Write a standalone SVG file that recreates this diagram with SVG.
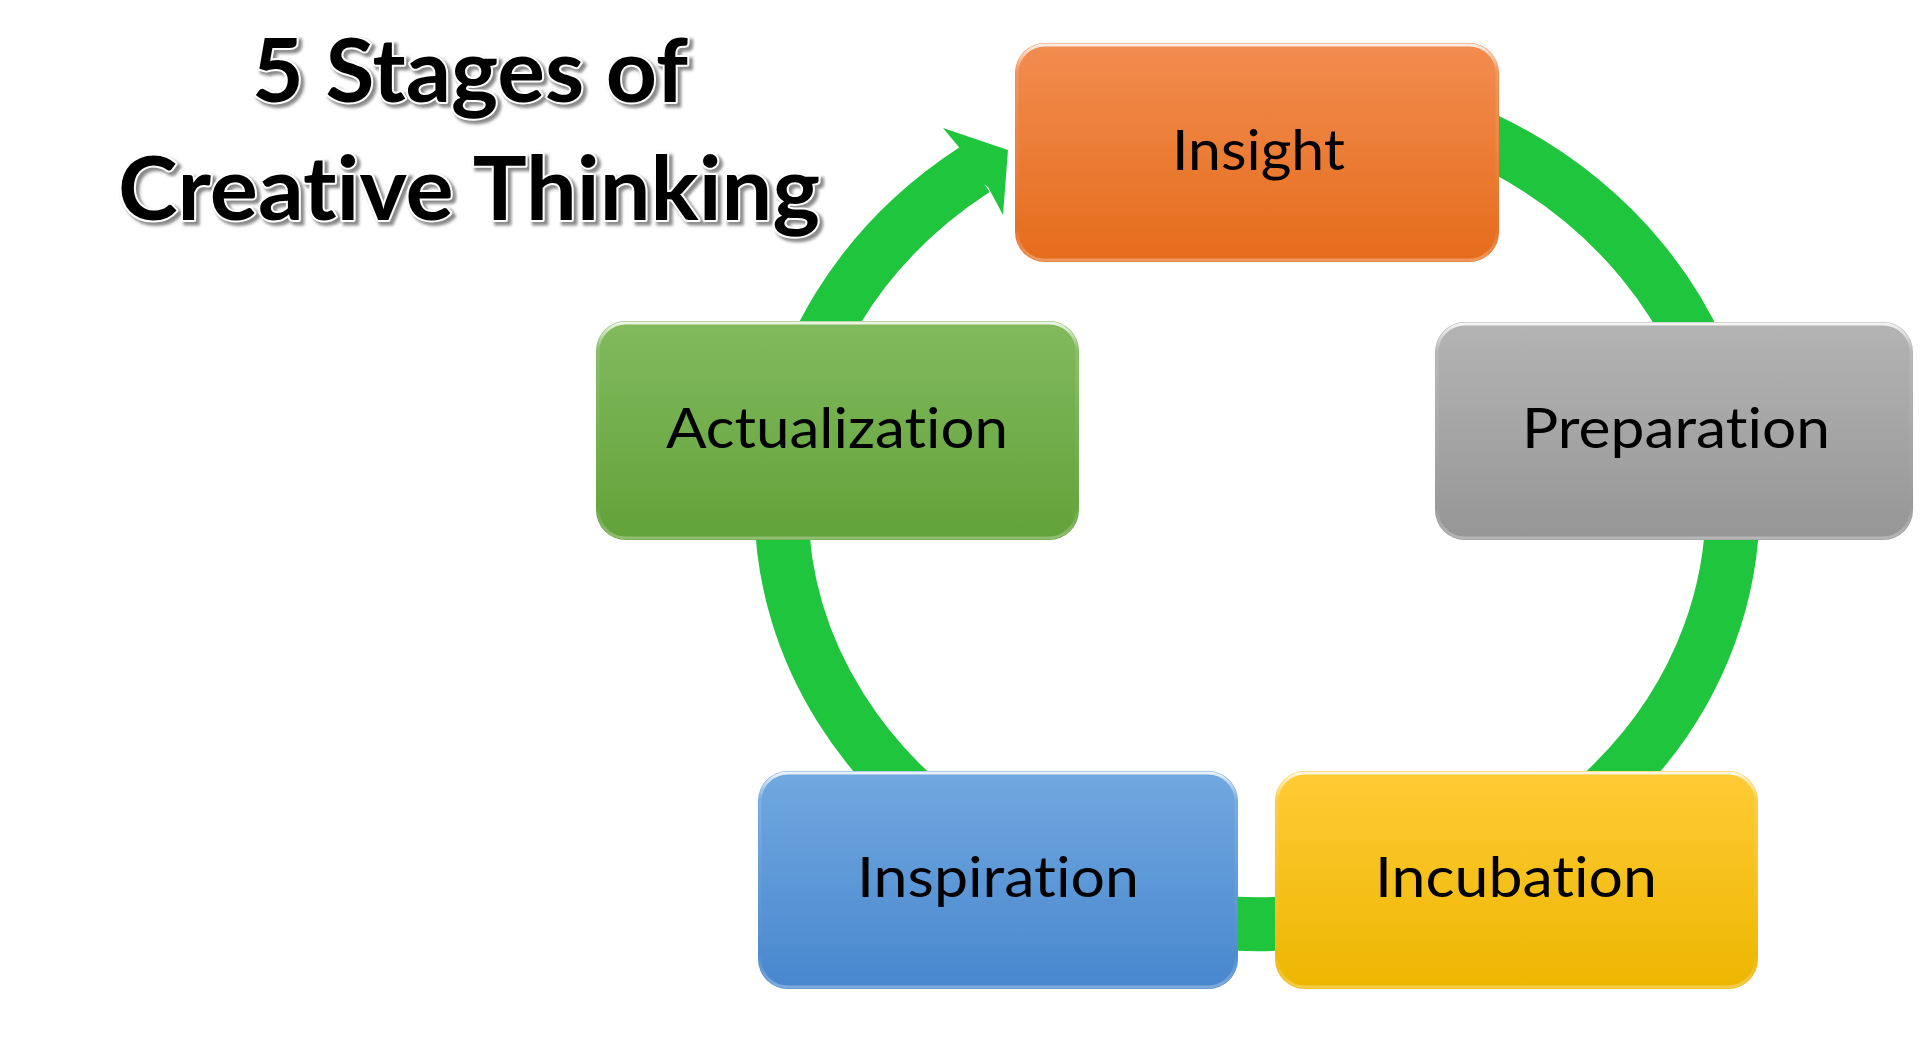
<svg xmlns="http://www.w3.org/2000/svg" width="1920" height="1039" viewBox="0 0 1920 1039">
  <defs>
    <linearGradient id="gOrange" x1="0" y1="0" x2="0" y2="1">
      <stop offset="0" stop-color="#F28D50"/>
      <stop offset="1" stop-color="#E56C1B"/>
    </linearGradient>
    <linearGradient id="gGray" x1="0" y1="0" x2="0" y2="1">
      <stop offset="0" stop-color="#B4B4B4"/>
      <stop offset="1" stop-color="#969696"/>
    </linearGradient>
    <linearGradient id="gGreen" x1="0" y1="0" x2="0" y2="1">
      <stop offset="0" stop-color="#82BA5E"/>
      <stop offset="1" stop-color="#62A239"/>
    </linearGradient>
    <linearGradient id="gBlue" x1="0" y1="0" x2="0" y2="1">
      <stop offset="0" stop-color="#71A8E0"/>
      <stop offset="1" stop-color="#4887CE"/>
    </linearGradient>
    <linearGradient id="gYellow" x1="0" y1="0" x2="0" y2="1">
      <stop offset="0" stop-color="#FFCB36"/>
      <stop offset="1" stop-color="#EDB600"/>
    </linearGradient>
    <linearGradient id="hl" x1="0" y1="0" x2="0" y2="1">
      <stop offset="0" stop-color="#FFFFFF" stop-opacity="0.85"/>
      <stop offset="0.12" stop-color="#FFFFFF" stop-opacity="0.12"/>
      <stop offset="0.85" stop-color="#FFFFFF" stop-opacity="0"/>
      <stop offset="1" stop-color="#FFFFFF" stop-opacity="0.3"/>
    </linearGradient>
    <filter id="blur" x="-5%" y="-10%" width="110%" height="130%">
      <feGaussianBlur stdDeviation="1.6"/>
    </filter>
    <style>
      .box-hl { fill: none; stroke: url(#hl); stroke-width: 3; }
      .label { font-family: Lato, "Open Sans", "Liberation Sans", sans-serif; font-size: 57px; fill: #000; font-variant-ligatures: none; font-feature-settings: "liga" 0, "clig" 0; }
      .title { font-family: Lato, "Open Sans", "Liberation Sans", sans-serif; font-weight: bold; font-size: 88px; font-variant-ligatures: none; font-feature-settings: "liga" 0, "clig" 0; }
      .title-shadow { fill: #8a8a8a; stroke: #8a8a8a; stroke-width: 5; filter: url(#blur); }
      .title-main { fill: #000; stroke: #fff; stroke-width: 4; paint-order: stroke; stroke-linejoin: round; }
      .ring { fill: none; stroke: #1FC53D; stroke-width: 54; }
      .arrowhead { fill: #1FC53D; }
    </style>
  </defs>
  <rect width="1920" height="1039" fill="#ffffff"/>

  <g id="title">
    <text class="title title-shadow" x="255" y="105" textLength="436" lengthAdjust="spacingAndGlyphs">5 Stages of</text>
    <text class="title title-shadow" x="121" y="223" textLength="702" lengthAdjust="spacingAndGlyphs">Creative Thinking</text>
    <text class="title title-main" x="252" y="102" textLength="436" lengthAdjust="spacingAndGlyphs">5 Stages of</text>
    <text class="title title-main" x="118" y="220" textLength="702" lengthAdjust="spacingAndGlyphs">Creative Thinking</text>
  </g>

  <g id="connectors">
    <path class="ring" d="M 1257 88 A 475.5 418 0 1 1 975 169.4"/>
    <polygon class="arrowhead" points="943,128 1008,150 1003,215 988,187 970,173 963,152"/>
  </g>

  <g id="node-insight">
    <rect x="1015" y="43" width="484" height="219" rx="30" fill="url(#gOrange)"/>
    <rect class="box-hl" x="1017" y="45" width="480" height="215" rx="28"/>
    <text class="label" x="1172" y="170" textLength="173" lengthAdjust="spacingAndGlyphs">Insight</text>
  </g>

  <g id="node-preparation">
    <rect x="1435" y="322" width="478" height="218" rx="30" fill="url(#gGray)"/>
    <rect class="box-hl" x="1437" y="324" width="474" height="214" rx="28"/>
    <text class="label" x="1522" y="448" textLength="308" lengthAdjust="spacingAndGlyphs">Preparation</text>
  </g>

  <g id="node-incubation">
    <rect x="1275" y="771" width="483" height="218" rx="30" fill="url(#gYellow)"/>
    <rect class="box-hl" x="1277" y="773" width="479" height="214" rx="28"/>
    <text class="label" x="1375" y="897" textLength="282" lengthAdjust="spacingAndGlyphs">Incubation</text>
  </g>

  <g id="node-inspiration">
    <rect x="758" y="771" width="480" height="218" rx="30" fill="url(#gBlue)"/>
    <rect class="box-hl" x="760" y="773" width="476" height="214" rx="28"/>
    <text class="label" x="857" y="897" textLength="282" lengthAdjust="spacingAndGlyphs">Inspiration</text>
  </g>

  <g id="node-actualization">
    <rect x="596" y="321" width="483" height="219" rx="30" fill="url(#gGreen)"/>
    <rect class="box-hl" x="598" y="323" width="479" height="215" rx="28"/>
    <text class="label" x="666" y="448" textLength="342" lengthAdjust="spacingAndGlyphs">Actualization</text>
  </g>
</svg>
